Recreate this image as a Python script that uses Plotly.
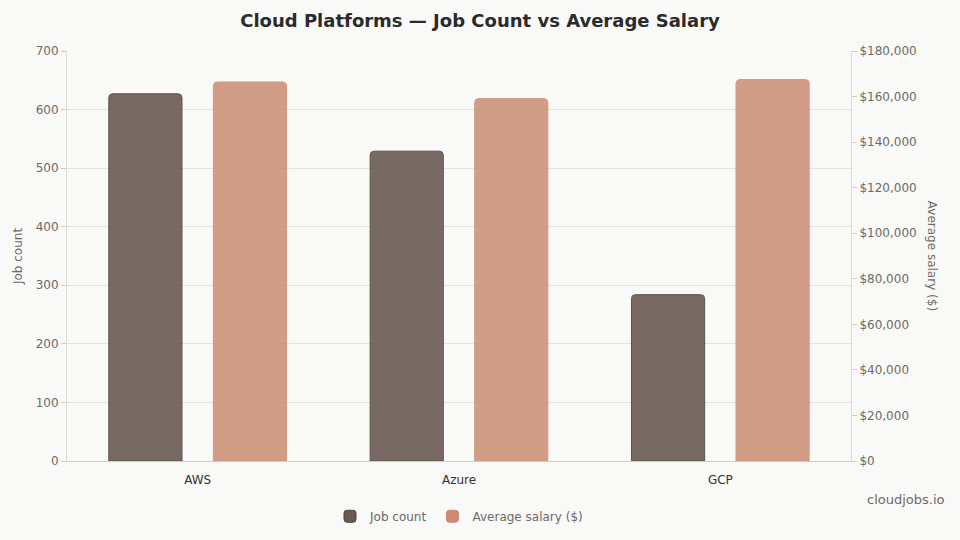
import plotly.graph_objects as go

platforms = ["AWS", "Azure", "GCP"]
job_counts = [627, 529, 284]
avg_salary = [166400, 159100, 167500]

fig = go.Figure()
fig.add_trace(go.Bar(
    x=platforms, y=job_counts, name="Job count",
    marker=dict(color="#6b5a52", opacity=0.9, line=dict(color="#4f413b", width=1)),
    offsetgroup=1, yaxis="y",
))
fig.add_trace(go.Bar(
    x=platforms, y=avg_salary, name="Average salary ($)",
    marker=dict(color="#cc8d74", opacity=0.85, line=dict(color="#c98a70", width=1)),
    offsetgroup=2, yaxis="y2",
))

axis_font = dict(family="DejaVu Sans", size=12, color="#6e6a66")
fig.update_layout(
    width=960, height=540,
    paper_bgcolor="#f9f9f7", plot_bgcolor="#f9f9f7",
    font=dict(family="DejaVu Sans", color="#6e6a66"),
    title=dict(text="<b>Cloud Platforms — Job Count vs Average Salary</b>",
               x=0.5, y=0.961, xanchor="center", yanchor="middle",
               font=dict(size=18, color="#2b2b2b")),
    margin=dict(l=67, r=109, t=51, b=79),
    barmode="group", bargap=0.2, bargroupgap=0.3, barcornerradius=4,
    showlegend=True,
    legend=dict(orientation="h", x=0.5, xanchor="center", y=0.044, yanchor="middle",
                yref="container", font=dict(size=12, color="#6e6a66"), itemwidth=30),
    xaxis=dict(showline=True, linecolor="#cfcbc7", tickfont=dict(size=12, color="#333"),
               ticks="", ticklabelstandoff=8),
    yaxis=dict(title=dict(text="Job count", font=dict(size=12), standoff=10),
               range=[0, 700], dtick=100, gridcolor="#e4e1de", showline=True,
               linecolor="#dedad6", ticks="outside", ticklen=5, tickcolor="#cfcbc7",
               tickfont=axis_font, zeroline=False),
    yaxis2=dict(range=[0, 180000], dtick=20000, overlaying="y", side="right",
                tickprefix="$", tickformat=",d", showgrid=False, showline=True,
                linecolor="#dedad6", ticks="outside", ticklen=5, tickcolor="#cfcbc7",
                tickfont=axis_font, zeroline=False),
    annotations=[
        dict(text="Average salary ($)", textangle=90, x=1.115, y=0.5, xref="paper",
             yref="paper", showarrow=False, font=dict(size=12, color="#6e6a66")),
        dict(text="cloudjobs.io", x=1.122, y=-0.07, xref="paper", yref="paper",
             xanchor="right", yanchor="top", showarrow=False,
             font=dict(size=13, color="#6e6a66")),
    ],
)

fig.write_html("out.html", config={"displayModeBar": False},
               post_script="document.body.style.margin='0';")
